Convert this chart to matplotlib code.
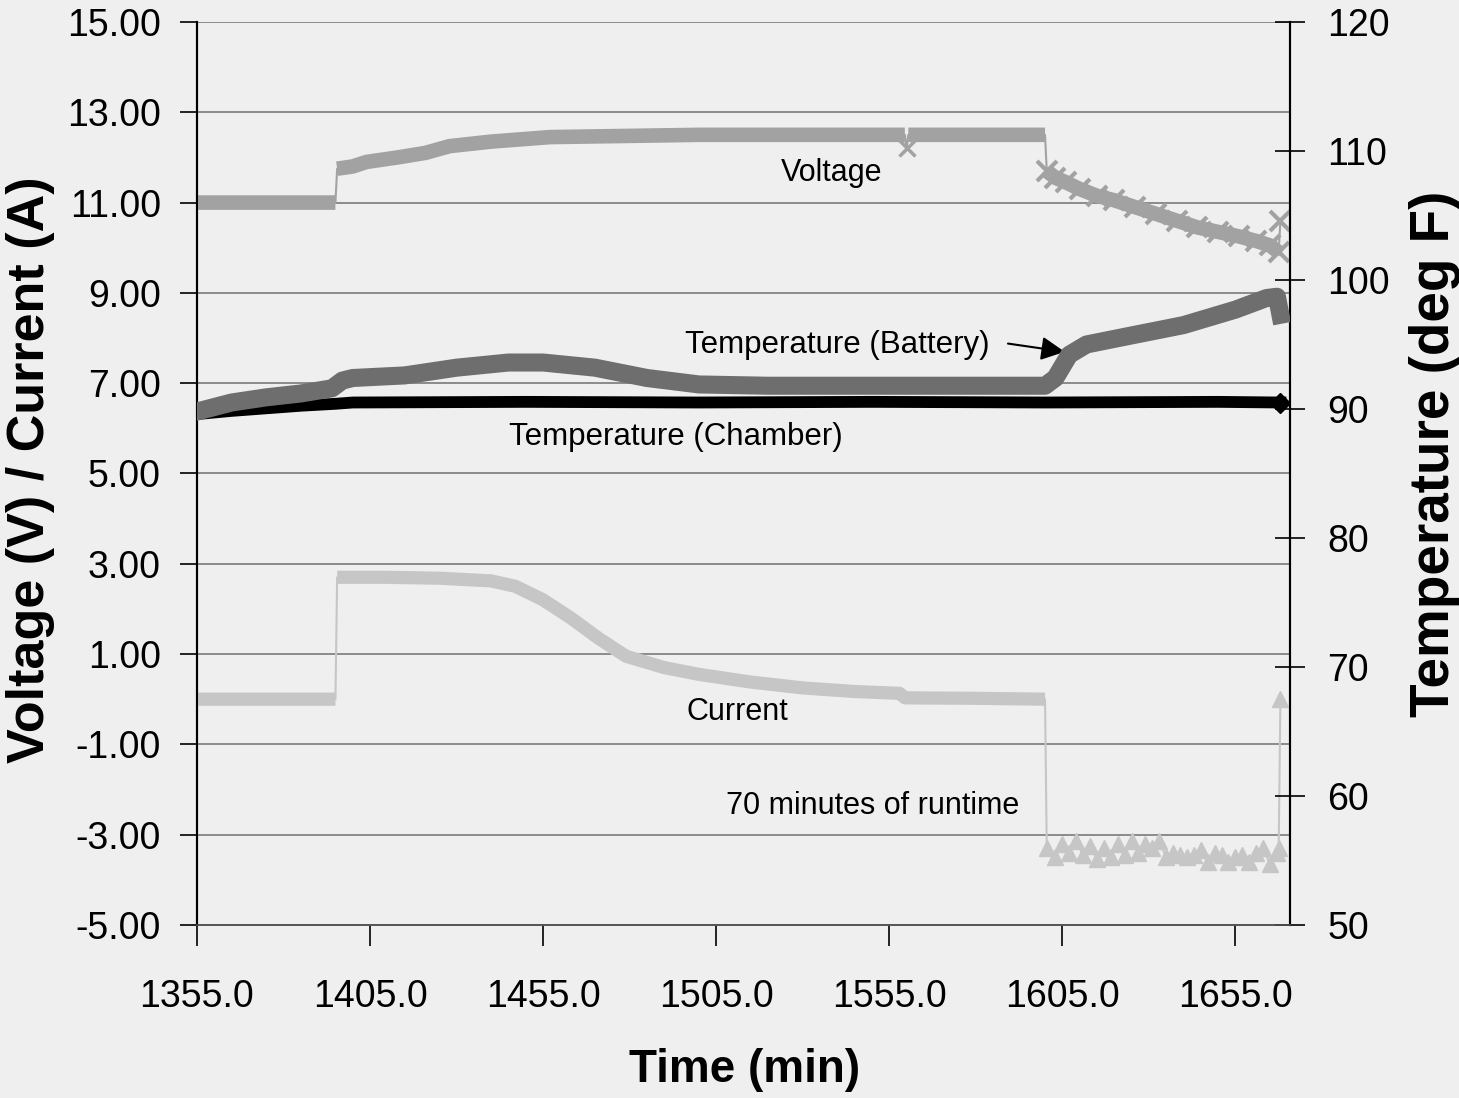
import numpy as np
import matplotlib
matplotlib.use("Agg")
import matplotlib.pyplot as plt

plt.rcParams['font.family'] = ['Liberation Sans', 'DejaVu Sans']

# ---- data ----
volt_t = [1355, 1375, 1395, 1395.5, 1400, 1404, 1413, 1421, 1428, 1440, 1457, 1500,
          1559.5, 1560, 1560.5, 1600, 1600.5, 1603, 1606, 1610, 1615, 1620, 1626,
          1632, 1638, 1644, 1650, 1656, 1661, 1665, 1667.5, 1668]
volt = [11.0, 11.0, 11.0, 11.75, 11.8, 11.9, 12.0, 12.1, 12.25, 12.35, 12.45, 12.5,
        12.5, 12.2, 12.5, 12.5, 11.7, 11.55, 11.45, 11.3, 11.15, 11.05, 10.9,
        10.75, 10.6, 10.45, 10.35, 10.25, 10.15, 10.05, 9.9, 10.6]

curr_t = [1355, 1375, 1395, 1395.5, 1410, 1425, 1440, 1447, 1455, 1463, 1471, 1479,
          1490, 1500, 1515, 1530, 1545, 1558, 1559.5, 1580, 1600,
          1600.5, 1603, 1605, 1607, 1609, 1611, 1613, 1615, 1617, 1619, 1621, 1623,
          1625, 1627, 1629, 1631, 1633, 1635, 1637, 1639, 1641, 1643, 1645, 1647,
          1649, 1651, 1653, 1655, 1657, 1659, 1661, 1663, 1665, 1667, 1667.5, 1668]
curr = [0.0, 0.0, 0.0, 2.7, 2.7, 2.68, 2.62, 2.5, 2.2, 1.8, 1.35, 0.95,
        0.7, 0.55, 0.38, 0.25, 0.17, 0.13, 0.03, 0.02, 0.0,
        -3.3, -3.5, -3.2, -3.4, -3.15, -3.45, -3.25, -3.55, -3.3, -3.5, -3.2, -3.45,
        -3.15, -3.4, -3.2, -3.3, -3.15, -3.5, -3.4, -3.45, -3.5, -3.45, -3.35, -3.6,
        -3.4, -3.45, -3.6, -3.5, -3.45, -3.6, -3.4, -3.3, -3.65, -3.4, -3.3, 0.0]

batt_t = [1355, 1365, 1375, 1385, 1394, 1397, 1400, 1415, 1430, 1445, 1455, 1470,
          1485, 1500, 1520, 1560, 1600, 1603, 1607, 1612, 1625, 1640, 1655, 1664,
          1667, 1668]
batt = [89.8, 90.5, 90.9, 91.2, 91.6, 92.2, 92.4, 92.6, 93.2, 93.6, 93.6, 93.2,
        92.4, 91.9, 91.8, 91.8, 91.8, 92.4, 94.2, 95.0, 95.7, 96.5, 97.7, 98.6,
        98.7, 97.3]

cham_t = [1355, 1365, 1375, 1385, 1395, 1400, 1450, 1500, 1550, 1600, 1650, 1668]
cham = [89.6, 89.85, 90.05, 90.25, 90.4, 90.5, 90.55, 90.5, 90.55, 90.5, 90.55, 90.5]

xticks = [1355, 1405, 1455, 1505, 1555, 1605, 1655]
left_ticks = [-5, -3, -1, 1, 3, 5, 7, 9, 11, 13, 15]
right_ticks = [50, 60, 70, 80, 90, 100, 110, 120]

BG = '#efefef'


def thick_segments(t, y, jump):
    # break the thick stroke where the series jumps, so jumps stay thin
    t = np.asarray(t, float)
    y = np.asarray(y, float)
    tt, yy = [t[0]], [y[0]]
    for i in range(1, len(t)):
        if abs(y[i] - y[i - 1]) > jump:
            tt.append(np.nan)
            yy.append(np.nan)
        tt.append(t[i])
        yy.append(y[i])
    return tt, yy


fig = plt.figure(figsize=(14.59, 10.98), dpi=100, facecolor=BG)
ax = fig.add_axes([0.135, 0.1576, 0.749, 0.8224], facecolor=BG)
ax2 = ax.twinx()
ax2.patch.set_visible(False)

# voltage
ax.plot(volt_t, volt, color='#a2a2a2', lw=1.5, zorder=3)
tt, yy = thick_segments(volt_t, volt, 0.25)
ax.plot(tt, yy, color='#a2a2a2', lw=10.5, solid_capstyle='butt', zorder=3)
ax.plot(volt_t[16:], volt[16:], ls='none', marker='x', ms=14, mew=3,
        color='#a2a2a2', zorder=3)
ax.plot(volt_t[13], volt[13], ls='none', marker='x', ms=12, mew=2.5,
        color='#a2a2a2', zorder=3)

# current
ax.plot(curr_t, curr, color='#c6c6c6', lw=1.5, zorder=3)
tt, yy = thick_segments(curr_t[:21], curr[:21], 1.0)
ax.plot(tt, yy, color='#c6c6c6', lw=9.5, solid_capstyle='butt', zorder=3)
ax.plot(curr_t[21:-1], curr[21:-1], ls='none', marker='^', ms=12,
        color='#c6c6c6', zorder=3)
ax.plot(curr_t[-1], curr[-1], ls='none', marker='^', ms=12, color='#c6c6c6', zorder=3)

# temperatures
ax2.plot(cham_t, cham, color='black', lw=8.5, zorder=3)
ax2.plot(cham_t[-1], cham[-1], marker='D', ms=10, color='black', zorder=3)
ax2.plot(batt_t, batt, color='#6e6e6e', lw=13, solid_joinstyle='round', zorder=4)

ax.set_xlim(1355, 1670.7)
ax.set_ylim(-5, 15)
ax2.set_ylim(50, 120)

ax.set_xticks(xticks)
ax.set_xticklabels([f'{v:.1f}' for v in xticks])
ax.set_yticks(left_ticks)
ax.set_yticklabels([f'{v:.2f}' for v in left_ticks])
ax2.set_yticks(right_ticks)
ax2.set_yticklabels([str(v) for v in right_ticks])

ax.grid(axis='y', color='#7a7a7a', lw=1.2)
ax.set_axisbelow(True)
for a in (ax, ax2):
    a.spines['top'].set_visible(False)
    a.spines['left'].set_linewidth(1.5)
    a.spines['right'].set_linewidth(1.5)
    a.spines['bottom'].set_linewidth(1.2)
    a.spines['bottom'].set_color('#555555')

ax.tick_params(axis='y', direction='out', length=12, width=1.2, labelsize=27, pad=14)
ax.tick_params(axis='x', direction='out', length=15, width=1.2, labelsize=27, pad=24)
ax2.tick_params(axis='y', direction='inout', length=22, width=1.2, labelsize=27, pad=16)

# series labels
ax.text(1538.4, 11.66, 'Voltage', fontsize=22, ha='center', va='center')
ax.text(1540.1, 7.85, 'Temperature (Battery)', fontsize=22.5, ha='center', va='center')
ax.text(1493.3, 5.81, 'Temperature (Chamber)', fontsize=22.5, ha='center', va='center')
ax.text(1511.0, -0.28, 'Current', fontsize=22, ha='center', va='center')
ax.text(1550.2, -2.36, '70 minutes of runtime', fontsize=22, ha='center', va='center')
ax2.annotate('', xy=(1606.5, 94.4), xytext=(1588.5, 95.1),
             arrowprops=dict(arrowstyle='-|>', color='black', lw=1.5, mutation_scale=36))

fig.text(0.0206, 0.572, 'Voltage (V) / Current (A)', rotation=90, fontsize=37.5,
         fontweight='bold', ha='center', va='center')
fig.text(0.9835, 0.5865, 'Temperature (deg F)', rotation=90, fontsize=39.5,
         fontweight='bold', ha='center', va='center')
fig.text(0.5106, 0.0255, 'Time (min)', fontsize=33, fontweight='bold',
         ha='center', va='center')

fig.savefig('out.png', dpi=100, facecolor=BG)
